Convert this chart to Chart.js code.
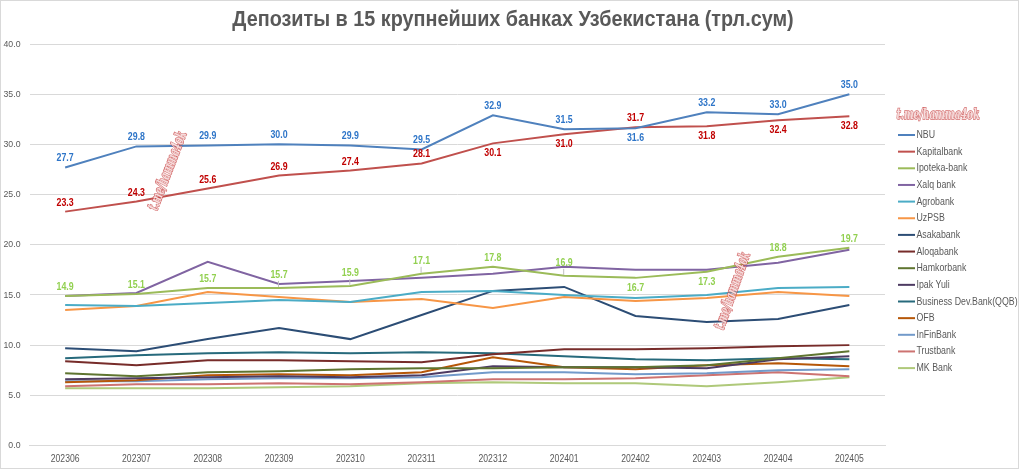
<!DOCTYPE html>
<html>
<head>
<meta charset="utf-8">
<script src="https://cdn.jsdelivr.net/npm/chart.js@4/dist/chart.umd.min.js"></script>
<style>
html,body{margin:0;padding:0;background:#fff;}
#wrap{position:relative;width:1024px;height:469px;}
</style>
</head>
<body>
<div id="wrap"><canvas id="c" width="1024" height="469"></canvas></div>
<script>
const TITLE = "Депозиты в 15 крупнейших банках Узбекистана (трл.сум)";
const WATERMARK = "t.me/hamma4ok";
const categories = ["202306","202307","202308","202309","202310","202311","202312","202401","202402","202403","202404","202405"];
const yTicks = [0,5,10,15,20,25,30,35,40];

const bankNames = ["NBU","Kapitalbank","Ipoteka-bank","Xalq bank","Agrobank","UzPSB","Asakabank","Aloqabank","Hamkorbank","Ipak Yuli","Business Dev.Bank(QQB)","OFB","InFinBank","Trustbank","MK Bank"];

const nbu        = [27.7,29.8,29.9,30.0,29.9,29.5,32.9,31.5,31.6,33.2,33.0,35.0];
const kapitalbank= [23.3,24.3,25.6,26.9,27.4,28.1,30.1,31.0,31.7,31.8,32.4,32.8];
const ipoteka    = [14.9,15.1,15.7,15.7,15.9,17.1,17.8,16.9,16.7,17.3,18.8,19.7];
const xalq       = [14.9,15.2,18.3,16.1,16.4,16.7,17.1,17.8,17.5,17.5,18.2,19.5];
const agrobank   = [14.0,13.9,14.2,14.5,14.3,15.3,15.4,15.0,14.7,15.0,15.7,15.8];
const uzpsb      = [13.5,13.9,15.3,14.8,14.3,14.6,13.7,14.8,14.4,14.7,15.3,14.9];
const asakabank  = [9.7,9.4,10.6,11.7,10.6,13.0,15.4,15.8,12.9,12.3,12.6,14.0];
const aloqabank  = [8.4,8.0,8.5,8.5,8.4,8.3,9.1,9.6,9.6,9.7,9.9,10.0];
const hamkorbank = [7.2,6.9,7.3,7.4,7.6,7.7,7.7,7.8,7.8,8.0,8.7,9.4];
const ipakYuli   = [6.6,6.7,6.8,6.9,6.8,7.0,7.9,7.8,7.8,7.7,8.6,8.9];
const bdb        = [8.7,9.0,9.2,9.3,9.2,9.3,9.2,8.9,8.6,8.5,8.7,8.6];
const ofb        = [6.3,6.5,7.0,7.1,7.0,7.3,8.8,7.8,7.6,8.0,8.2,7.9];
const infinbank  = [6.4,6.4,6.6,6.7,6.7,6.8,7.3,7.3,7.1,7.2,7.5,7.6];
const trustbank  = [5.9,6.1,6.1,6.2,6.1,6.3,6.6,6.6,6.7,7.0,7.3,6.9];
const mkbank     = [5.7,5.7,5.7,5.8,5.9,6.2,6.3,6.2,6.2,5.9,6.3,6.8];

const seriesData = [nbu,kapitalbank,ipoteka,xalq,agrobank,uzpsb,asakabank,aloqabank,hamkorbank,ipakYuli,bdb,ofb,infinbank,trustbank,mkbank];
const colors = ["#4F81BD","#C0504D","#9BBB59","#8064A2","#4BACC6","#F79646","#2C4D75","#772C2A","#5F7530","#4D3B62","#276A7C","#B65708","#729ACA","#CD7371","#AFC97A"];

// data-label placement (a = above, b = below, A = further above with leader)
const nbuLabelPos  = ["a","a","a","a","a","a","a","a","b","a","a","a"];
const kapLabelPos  = ["a","a","a","a","a","a","b","b","a","b","b","b"];
const ipoLabelPos  = ["a","a","a","A","A","A","a","A","b","b","a","a"];
const labelColors  = ["#2E75C8","#C00000","#92D050"];
const labelPosList = [nbuLabelPos,kapLabelPos,ipoLabelPos];

const datasets = bankNames.map((n,i)=>({
  label:n, data:seriesData[i], borderColor:colors[i], backgroundColor:colors[i],
  borderWidth:2, pointRadius:0, tension:0, fill:false
}));

const FONT = "'Liberation Sans',Arial,sans-serif";

function narrowText(ctx, text, x, y, font, sx, align){
  ctx.save();
  ctx.font = font;
  ctx.textAlign = align || "center";
  ctx.textBaseline = "middle";
  ctx.translate(x, y);
  ctx.scale(sx, 1);
  ctx.fillText(text, 0, 0);
  ctx.restore();
}

const overlay = {
  id:'overlay',
  afterDatasetsDraw(chart){
    const ctx = chart.ctx;
    for(let d=0; d<3; d++){
      const meta = chart.getDatasetMeta(d);
      const pos = labelPosList[d];
      meta.data.forEach((pt,i)=>{
        const v = seriesData[d][i];
        let y;
        if(pos[i]==="b") y = pt.y + 10;
        else if(pos[i]==="A") y = pt.y - 13;
        else y = pt.y - 9;
        if(pos[i]==="A"){
          ctx.save(); ctx.strokeStyle="#bfbfbf"; ctx.lineWidth=1;
          ctx.beginPath(); ctx.moveTo(pt.x-0.5, y+6); ctx.lineTo(pt.x-0.5, pt.y-1); ctx.stroke(); ctx.restore();
        }
        ctx.fillStyle = labelColors[d];
        narrowText(ctx, v.toFixed(1), pt.x, y, "bold 11px " + FONT, 0.8);
      });
    }
  },
  afterDraw(chart){
    const ctx = chart.ctx;
    const xs = chart.scales.x, ys = chart.scales.y;
    ctx.save();
    ctx.fillStyle = "#595959";
    yTicks.forEach(v=>{
      narrowText(ctx, v.toFixed(1), 20.5, ys.getPixelForValue(v), "9.5px " + FONT, 0.92, "right");
    });
    categories.forEach((c,i)=>{
      narrowText(ctx, c, xs.getPixelForTick(i), 459, "10px " + FONT, 0.86, "center");
    });
    narrowText(ctx, TITLE, 513, 19.5, "bold 22px " + FONT, 0.9, "center");
    bankNames.forEach((n,i)=>{
      const y = 135 + i*16.65;
      ctx.strokeStyle = colors[i]; ctx.lineWidth = 2;
      ctx.beginPath(); ctx.moveTo(898,y); ctx.lineTo(915,y); ctx.stroke();
      ctx.fillStyle = "#595959";
      narrowText(ctx, n, 916.5, y, "11px " + FONT, 0.8, "left");
    });
    const wm = (x,y,ang,len)=>{
      ctx.save();
      ctx.translate(x,y); ctx.rotate(ang);
      ctx.font = "italic bold 15px 'DejaVu Serif',serif";
      const w = ctx.measureText(WATERMARK).width;
      ctx.scale(len/w, 1);
      ctx.textAlign="center"; ctx.textBaseline="middle";
      ctx.lineWidth = 1.6; ctx.strokeStyle = "rgba(200,70,70,0.8)";
      ctx.strokeText(WATERMARK,0,0);
      ctx.fillStyle = "#f6dcdc";
      ctx.fillText(WATERMARK,0,0);
      ctx.restore();
    };
    wm(938,115,0,83);
    wm(168,171,-1.204,83);
    wm(733,291,-1.233,81);
    ctx.strokeStyle="#d9d9d9"; ctx.lineWidth=1;
    ctx.strokeRect(0.5,0.5,1018,468);
    ctx.restore();
  }
};

new Chart(document.getElementById('c'),{
  type:'line',
  data:{labels:categories, datasets},
  options:{
    responsive:false, animation:false, devicePixelRatio:1,
    layout:{padding:{top:44,left:29.5,right:139,bottom:23.5}},
    plugins:{legend:{display:false}, title:{display:false}, tooltip:{enabled:false}},
    scales:{
      x:{offset:true, grid:{display:false, drawTicks:false}, border:{display:true,color:"#d9d9d9"},
         ticks:{display:false}},
      y:{min:0,max:40, afterBuildTicks(ax){ax.ticks = yTicks.map(v=>({value:v}));},
         grid:{color:"#d9d9d9", drawTicks:false}, border:{display:false},
         ticks:{display:false}}
    }
  },
  plugins:[overlay]
});
</script>
</body>
</html>
